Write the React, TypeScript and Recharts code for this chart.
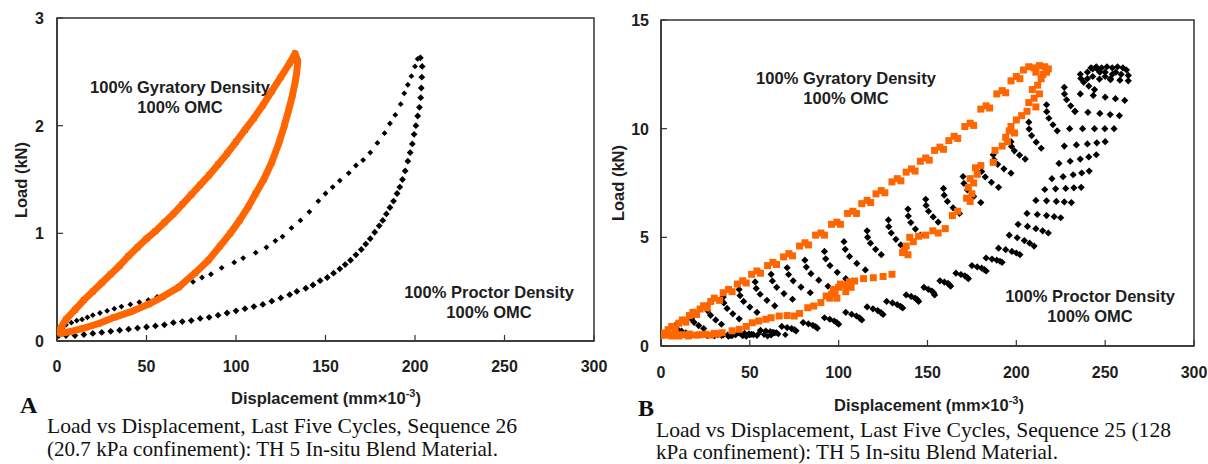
import React from 'react'
import { ScatterChart, Scatter, XAxis, YAxis, ReferenceArea } from 'recharts'

type Pt = [number, number]

const xTicks = [0, 50, 100, 150, 200, 250, 300]
const yTicksA = [0, 1, 2, 3]
const yTicksB = [0, 5, 10, 15]

// panel A, 100% gyratory density (loading then unloading)
const gyratoryLoadA: Pt[] = [
  [0.5, 0.08], [5, 0.2], [10, 0.29], [15, 0.38], [20, 0.46], [25, 0.54], [30, 0.62],
  [35, 0.7], [40, 0.79], [45, 0.87], [50, 0.95], [55, 1.02], [60, 1.1], [65, 1.18],
  [70, 1.27], [75, 1.36], [80, 1.45], [85, 1.54], [90, 1.64], [95, 1.74], [100, 1.85],
  [105, 1.96], [110, 2.07], [115, 2.19], [120, 2.32], [125, 2.45], [130, 2.58], [133, 2.67],
]
const gyratoryUnloadA: Pt[] = [
  [134.5, 2.6], [134, 2.5], [133, 2.4], [131.5, 2.28], [129.5, 2.15], [127, 2.0], [124, 1.84],
  [120, 1.66], [115.5, 1.5], [111, 1.37], [107, 1.25], [102, 1.12], [96.8, 1.0], [91, 0.88],
  [84.6, 0.75], [77, 0.63], [68, 0.5], [59, 0.41], [51, 0.34], [41, 0.27], [32, 0.22],
  [23, 0.16], [15, 0.12], [8, 0.09], [2, 0.07], [0.5, 0.08],
]

// panel A, 100% proctor density
const proctorLoadA: Pt[] = [
  [1, 0.1], [3, 0.12], [5, 0.15], [8, 0.17], [11, 0.19], [14, 0.2], [17, 0.22], [20, 0.24],
  [24, 0.26], [28, 0.28], [32, 0.3], [36, 0.32], [41, 0.34], [46, 0.36], [51, 0.38], [56, 0.41],
  [62, 0.45], [69, 0.5], [76, 0.55], [81, 0.59], [86, 0.62], [92, 0.68], [99, 0.73], [104, 0.77],
  [111, 0.82], [117, 0.87], [122, 0.93], [126, 0.97], [131, 1.05], [136, 1.12], [141, 1.2],
  [146, 1.3], [150, 1.37], [154, 1.43], [158, 1.49], [163, 1.56], [167, 1.63], [171, 1.68],
  [175, 1.75], [179, 1.84], [183, 1.93], [186, 2.02], [189, 2.1], [192, 2.2], [194, 2.3],
  [196, 2.38], [198, 2.46], [200, 2.55], [201.5, 2.62],
]
const proctorUnloadA: Pt[] = [
  [203, 2.63], [204, 2.55], [203.8, 2.45], [203.5, 2.35], [203.2, 2.26], [202.5, 2.17],
  [201.5, 2.09], [200.5, 2.0], [199.5, 1.92], [198.5, 1.83], [197.3, 1.75], [196, 1.67],
  [194.5, 1.58], [193, 1.5], [191.5, 1.43], [190, 1.37], [188, 1.3], [186, 1.24], [184, 1.18],
  [182, 1.12], [180, 1.07], [177.5, 1.01], [175, 0.95], [172.5, 0.9], [170, 0.85], [167, 0.8],
  [164, 0.75], [161, 0.71], [158, 0.67], [154.5, 0.63], [151, 0.59], [147, 0.56], [143, 0.52],
  [139, 0.49], [134, 0.46], [130, 0.43], [125, 0.4], [120, 0.37], [115, 0.34], [110, 0.32],
  [105, 0.3], [100, 0.28], [95, 0.26], [90, 0.24], [85, 0.22], [80, 0.21], [75, 0.19],
  [70, 0.18], [65, 0.17], [60, 0.15], [55, 0.14], [50, 0.13], [45, 0.12], [40, 0.11],
  [35, 0.1], [30, 0.09], [25, 0.08], [20, 0.07], [15, 0.06], [10, 0.05], [5, 0.05], [1, 0.05],
]

// panel B, 100% gyratory density
const gyratoryLoadB: Pt[] = [
  [0, 0.5], [2, 0.6], [4, 0.75], [6, 0.9], [8, 0.8], [10, 1.05], [12, 1.2], [14, 1.1],
  [16, 1.4], [18, 1.55], [20, 1.45], [22, 1.7], [24, 1.85], [26, 1.75], [28, 2.05], [30, 2.2],
  [33, 2.1], [35, 2.45], [38, 2.6], [40, 2.5], [43, 2.85], [46, 3.0], [48, 2.9], [51, 3.3],
  [54, 3.45], [56, 3.35], [60, 3.7], [63, 3.85], [65, 3.75], [69, 4.1], [72, 4.25], [74, 4.15],
  [78, 4.6], [81, 4.75], [83, 4.65], [87, 5.1], [90, 5.2], [92, 5.1], [96, 5.6], [99, 5.7],
  [101, 5.6], [105, 6.1], [108, 6.2], [110, 6.1], [113, 6.55], [116, 6.7], [118, 6.6],
  [121, 7.0], [124, 7.15], [126, 7.05], [130, 7.55], [133, 7.7], [135, 7.6], [138, 8.0],
  [141, 8.15], [143, 8.05], [146, 8.5], [149, 8.65], [151, 8.55], [154, 9.0], [157, 9.15],
  [159, 9.05], [162, 9.45], [165, 9.65], [167, 9.55], [171, 10.1], [174, 10.25], [176, 10.15],
  [180, 10.9], [183, 11.05], [185, 10.95], [189, 11.6], [192, 11.75], [194, 11.65], [197, 12.2],
  [200, 12.4], [202, 12.3], [204, 12.7], [207, 12.85], [210, 12.8], [213, 12.9], [216, 12.85],
  [218, 12.75], [211, 12.6], [215, 12.5],
]
const gyratoryUnloadB: Pt[] = [
  [217, 12.6], [214, 12.3], [212, 12.0], [209, 11.8], [213, 11.6], [210, 11.4], [207, 11.2],
  [211, 11.0], [206, 10.8], [203, 10.6], [200, 10.4], [197, 10.1], [196, 9.9], [199, 9.8],
  [194, 9.6], [195, 9.4], [192, 9.2], [188, 9.0], [187, 8.45], [180, 8.3], [177, 8.2],
  [178, 7.9], [174, 7.7], [176, 7.5], [173, 7.3], [175, 7.0], [172, 6.8], [174, 6.65],
  [167, 6.2], [164, 6.0], [160, 5.4], [156, 5.2], [153, 5.3], [149, 5.1], [145, 5.05],
  [142, 4.8], [140, 5.0], [138, 4.6], [137, 4.4], [139, 4.2], [136, 4.3], [130, 3.3],
  [125, 3.2], [119.5, 3.14], [114, 3.1], [109, 2.99], [106, 2.95], [103.4, 2.8], [100, 2.7],
  [98, 2.5], [96, 2.38], [93, 2.3], [95, 2.2], [97, 2.6], [101, 2.85], [104, 2.5], [99, 2.2],
  [107, 2.7], [90, 2.0], [86, 1.84], [82.6, 1.76], [78, 1.5], [75, 1.38], [71, 1.4],
  [66.5, 1.38], [62, 1.3], [59, 1.23], [55, 1.15], [51.4, 1.07], [48, 0.9], [44, 0.77],
  [40, 0.7], [34.4, 0.61], [30, 0.58], [25, 0.54], [20, 0.5], [15.5, 0.46], [10, 0.46],
  [6, 0.46], [2, 0.5], [4, 0.55], [8, 0.5], [12, 0.52], [16, 0.55], [22, 0.52], [28, 0.5],
  [32, 0.55],
]

// panel B, 100% proctor density: loading arcs, peak, unloading band, tail
const proctorLoadB: Pt[] = [
  [8, 0.95], [8.1, 0.86], [9.3, 0.77], [11.6, 0.68], [14, 0.6],
  [17, 1.4], [17.2, 1.24], [18.6, 1.09], [21.2, 0.94], [24, 0.8],
  [26, 1.85], [26.3, 1.62], [27.9, 1.41], [30.8, 1.2], [34, 1.0],
  [35, 2.25], [35.4, 1.98], [37.2, 1.73], [40.4, 1.48], [44, 1.25],
  [44, 2.6], [44.5, 2.32], [46.5, 2.05], [50, 1.79], [54, 1.55],
  [53, 2.95], [53.6, 2.65], [55.8, 2.38], [59.6, 2.1], [64, 1.85],
  [62, 3.3], [62.7, 2.99], [65.1, 2.7], [69.2, 2.41], [74, 2.15],
  [71, 3.6], [71.8, 3.29], [74.4, 3.0], [78.8, 2.71], [84, 2.45],
  [81, 3.95], [81.8, 3.63], [84.4, 3.33], [88.8, 3.03], [94, 2.75],
  [92, 4.35], [92.7, 4.01], [95.1, 3.7], [99.2, 3.39], [104, 3.1],
  [103, 4.8], [103.7, 4.45], [106.1, 4.12], [110.2, 3.8], [115, 3.5],
  [116, 5.3], [116.3, 5.0], [117.9, 4.73], [120.8, 4.45], [124, 4.2],
  [128, 5.8], [128.2, 5.49], [129.6, 5.2], [132.2, 4.91], [135, 4.65],
  [139, 6.3], [139.2, 5.98], [140.6, 5.68], [143.2, 5.38], [146, 5.1],
  [149, 6.75], [149.2, 6.47], [150.6, 6.2], [153.2, 5.94], [156, 5.7],
  [159, 7.25], [159.4, 6.94], [161.2, 6.65], [164.4, 6.36], [168, 6.1],
  [170, 7.8], [170.5, 7.48], [172.5, 7.18], [176, 6.88], [180, 6.6],
  [180, 8.3], [180.5, 8.03], [182.5, 7.78], [186, 7.53], [190, 7.3],
  [187, 8.8], [187.5, 8.57], [189.5, 8.36], [193, 8.15], [197, 7.95],
  [197, 9.4], [197.3, 9.18], [198.9, 8.98], [201.8, 8.78], [205, 8.6],
  [207, 10.3], [207.2, 9.98], [208.6, 9.68], [211.2, 9.38], [214, 9.1],
  [217, 11.1], [217.1, 10.78], [218.3, 10.48], [220.6, 10.18], [223, 9.9],
  [227, 11.9], [227.1, 11.6], [228.3, 11.33], [230.6, 11.05], [233, 10.8],
  [236, 12.5], [236.3, 12.31], [237.9, 12.14], [240.8, 11.96], [244, 11.8],
  [242, 12.8], [243, 12.75], [246, 12.7], [250, 12.6], [254, 12.5],
]
const proctorPeakB: Pt[] = [
  [245, 12.85], [248, 12.8], [251, 12.85], [254, 12.8], [257, 12.85], [260, 12.8], [262, 12.7],
  [263, 12.45], [256, 12.6], [259, 12.5], [250, 12.4], [247, 12.6], [253, 12.3], [240, 12.6],
  [243, 12.4],
]
const proctorUnloadB: Pt[] = [
  [240, 12.3], [246.8, 12.28], [253, 12.25], [258.3, 12.23], [263, 12.2],
  [236, 11.6], [243.3, 11.53], [250, 11.45], [255.8, 11.38], [261, 11.3],
  [233, 10.8], [240.3, 10.75], [247, 10.7], [252.8, 10.65], [258, 10.6],
  [230, 10.0], [237.3, 10.0], [244, 10.0], [249.8, 10.0], [255, 10.0],
  [227, 9.2], [233.8, 9.25], [240, 9.3], [245.3, 9.35], [250, 9.4],
  [224, 8.4], [230.3, 8.5], [236, 8.6], [240.8, 8.7], [245, 8.8],
  [220, 7.7], [226.3, 7.79], [232, 7.88], [236.8, 7.96], [241, 8.05],
  [216, 7.2], [222.1, 7.23], [227.8, 7.25], [232.4, 7.28], [236.5, 7.3],
  [211, 6.7], [217, 6.68], [222.5, 6.65], [227, 6.63], [231, 6.6],
  [206, 6.1], [211.8, 6.05], [217, 6.0], [221.3, 5.95], [225, 5.9],
  [201, 5.6], [206.3, 5.5], [211, 5.4], [214.8, 5.3], [218, 5.2],
  [196, 5.1], [200.5, 4.98], [204.5, 4.85], [207.5, 4.73], [210, 4.6],
  [190, 4.5], [194, 4.43], [197.5, 4.35], [200, 4.28], [202, 4.2],
  [183, 4.05], [186.3, 4.0], [189, 3.95], [190.8, 3.9], [192, 3.85],
  [175, 3.7], [178, 3.64], [180.5, 3.58], [182, 3.51], [183, 3.45],
  [166, 3.35], [168.8, 3.29], [171, 3.23], [172.3, 3.16], [173, 3.1],
  [157, 3.0], [159.5, 2.94], [161.5, 2.88], [162.5, 2.81], [163, 2.75],
  [148, 2.7], [150.5, 2.61], [152.5, 2.53], [153.5, 2.44], [154, 2.35],
  [138, 2.35], [140.8, 2.28], [143, 2.2], [144.3, 2.13], [145, 2.05],
  [127, 2.05], [130.3, 1.98], [133, 1.9], [134.8, 1.83], [136, 1.75],
  [116, 1.8], [119.3, 1.71], [122, 1.63], [123.8, 1.54], [125, 1.45],
  [104, 1.55], [107.3, 1.46], [110, 1.38], [111.8, 1.29], [113, 1.2],
  [92, 1.3], [95, 1.23], [97.5, 1.15], [99, 1.08], [100, 1.0],
  [80, 1.08], [83, 1.02], [85.5, 0.95], [87, 0.89], [88, 0.82],
  [68, 0.9], [71, 0.85], [73.5, 0.8], [75, 0.75], [76, 0.7],
  [56, 0.72], [59, 0.69], [61.5, 0.66], [63, 0.63], [64, 0.6],
  [44, 0.6], [47, 0.58], [49.5, 0.56], [51, 0.54], [52, 0.52],
  [32, 0.52], [35, 0.51], [37.5, 0.5], [39, 0.49], [40, 0.48],
]
const proctorTailB: Pt[] = [
  [3, 0.5], [7, 0.48], [12, 0.5], [17, 0.47], [22, 0.5], [26, 0.46], [30, 0.45], [34, 0.47],
  [38, 0.44], [42, 0.5], [46, 0.46], [50, 0.5], [54, 0.47], [58, 0.52], [62, 0.49], [66, 0.55],
  [70, 0.52], [45, 0.55], [55, 0.58], [65, 0.62], [60, 0.45], [48, 0.43],
]

const rows = (pts: Pt[]) => pts.map(([x, y]) => ({ x, y }))

const ORANGE = '#ff6600'
const BLACK = '#000'
const INK = '#1e1e1e'
const AXIS = '#333'
const SANS = '"Liberation Sans", Arial, sans-serif'
const SERIF = '"Liberation Serif", "Times New Roman", serif'

const diamond = (r: number) => (p: any) =>
  <path d={`M${p.cx},${p.cy - r}L${p.cx + r},${p.cy}L${p.cx},${p.cy + r}L${p.cx - r},${p.cy}Z`} fill={BLACK} />
const square = (s: number) => (p: any) =>
  <rect x={p.cx - s / 2} y={p.cy - s / 2} width={s} height={s} fill={ORANGE} />

const xTick = (dy: number) => (p: any) => (
  <g>
    <line x1={p.x} x2={p.x} y1={p.y} y2={p.y - 6} stroke={AXIS} strokeWidth={1.2} />
    <text x={p.x} y={p.y + dy} textAnchor="middle" fontFamily={SANS} fontWeight="bold" fontSize={16} fill={INK}>
      {p.payload.value}
    </text>
  </g>
)
const yTick = (dx: number) => (p: any) => (
  <g>
    <line x1={p.x} x2={p.x + 6} y1={p.y} y2={p.y} stroke={AXIS} strokeWidth={1.2} />
    <text x={p.x - dx} y={p.y + 6} textAnchor="end" fontFamily={SANS} fontWeight="bold" fontSize={16} fill={INK}>
      {p.payload.value}
    </text>
  </g>
)

const axisLine = { stroke: AXIS, strokeWidth: 1.5 }

function PanelA() {
  return (
    <ScatterChart width={610} height={400} margin={{ top: 18, right: 16, bottom: 29, left: 12 }}>
      <XAxis type="number" dataKey="x" domain={[0, 300]} ticks={xTicks} interval={0} height={30}
        tickSize={0} tickMargin={0} tickLine={false} axisLine={axisLine} tick={xTick(31)} allowDataOverflow />
      <YAxis type="number" dataKey="y" domain={[0, 3]} ticks={yTicksA} interval={0} width={45}
        tickSize={0} tickMargin={0} tickLine={false} axisLine={axisLine} tick={yTick(13)} allowDataOverflow />
      <ReferenceArea x1={0} x2={300} y1={0} y2={3} fill="none" stroke={AXIS} strokeWidth={1.5} ifOverflow="visible" />
      <Scatter data={rows(proctorUnloadA)} shape={diamond(3.4)} isAnimationActive={false} />
      <Scatter data={rows(proctorLoadA)} shape={diamond(2.9)} isAnimationActive={false} />
      <Scatter data={rows([...gyratoryLoadA, ...gyratoryUnloadA])} shape={square(6)}
        line={{ stroke: ORANGE, strokeWidth: 7, strokeLinejoin: 'round' }} lineType="joint" isAnimationActive={false} />
    </ScatterChart>
  )
}

function PanelB() {
  return (
    <ScatterChart width={608} height={400} margin={{ top: 20, right: 14, bottom: 24, left: 16 }}>
      <XAxis type="number" dataKey="x" domain={[0, 300]} ticks={xTicks} interval={0} height={30}
        tickSize={0} tickMargin={0} tickLine={false} axisLine={axisLine} tick={xTick(32)} allowDataOverflow />
      <YAxis type="number" dataKey="y" domain={[0, 15]} ticks={yTicksB} interval={0} width={45}
        tickSize={0} tickMargin={0} tickLine={false} axisLine={axisLine} tick={yTick(12)} allowDataOverflow />
      <ReferenceArea x1={0} x2={300} y1={0} y2={15} fill="none" stroke={AXIS} strokeWidth={1.5} ifOverflow="visible" />
      <Scatter data={rows(proctorTailB)} shape={diamond(3.2)} isAnimationActive={false} />
      <Scatter data={rows(proctorUnloadB)} shape={diamond(3.6)} isAnimationActive={false} />
      <Scatter data={rows(proctorLoadB)} shape={diamond(3.6)} isAnimationActive={false} />
      <Scatter data={rows(proctorPeakB)} shape={diamond(3.6)} isAnimationActive={false} />
      <Scatter data={rows(gyratoryUnloadB)} shape={square(7)} isAnimationActive={false} />
      <Scatter data={rows(gyratoryLoadB)} shape={square(7)} isAnimationActive={false} />
    </ScatterChart>
  )
}

const bold = { fontFamily: SANS, fontWeight: 'bold' as const, fontSize: 16.5, fill: INK }
const serif = { fontFamily: SERIF, fontSize: 21.5, fill: '#111' }

function Overlay() {
  return (
    <svg width={1208} height={464} style={{ position: 'absolute', left: 0, top: 0, pointerEvents: 'none' }}>
      {/* panel A texts */}
      <text {...bold} x={21} y={180} textAnchor="middle" dominantBaseline="central" transform="rotate(-90 21 180)">Load (kN)</text>
      <text {...bold} x={326} y={404} textAnchor="middle">
        Displacement (mm×10<tspan fontSize={11} dy={-7}>-3</tspan><tspan dy={7}>)</tspan>
      </text>
      <text {...bold} x={180} y={93} textAnchor="middle">100% Gyratory Density</text>
      <text {...bold} x={180} y={113} textAnchor="middle">100% OMC</text>
      <text {...bold} x={489} y={298} textAnchor="middle">100% Proctor Density</text>
      <text {...bold} x={489} y={318} textAnchor="middle">100% OMC</text>
      <text x={20} y={413} fontFamily={SERIF} fontWeight="bold" fontSize={24} fill="#111">A</text>
      <text {...serif} x={47} y={433} textLength={470} lengthAdjust="spacingAndGlyphs">Load vs Displacement, Last Five Cycles, Sequence 26</text>
      <text {...serif} x={47} y={456} textLength={451} lengthAdjust="spacingAndGlyphs">(20.7 kPa confinement): TH 5 In-situ Blend Material.</text>

      {/* panel B texts */}
      <text {...bold} x={618} y={183} textAnchor="middle" dominantBaseline="central" transform="rotate(-90 618 183)">Load (kN)</text>
      <text {...bold} x={929} y={411} textAnchor="middle">
        Displacement (mm×10<tspan fontSize={11} dy={-7}>-3</tspan><tspan dy={7}>)</tspan>
      </text>
      <text {...bold} x={846} y={84} textAnchor="middle">100% Gyratory Density</text>
      <text {...bold} x={846} y={104} textAnchor="middle">100% OMC</text>
      <text {...bold} x={1090} y={302} textAnchor="middle">100% Proctor Density</text>
      <text {...bold} x={1090} y={322} textAnchor="middle">100% OMC</text>
      <text x={638} y={416} fontFamily={SERIF} fontWeight="bold" fontSize={24} fill="#111">B</text>
      <text {...serif} x={656} y={437} textLength={515} lengthAdjust="spacingAndGlyphs">Load vs Displacement, Last Five Cycles, Sequence 25 (128</text>
      <text {...serif} x={656} y={459} textLength={402} lengthAdjust="spacingAndGlyphs">kPa confinement): TH 5 In-situ Blend Material.</text>
    </svg>
  )
}

export default function App() {
  return (
    <div style={{ position: 'absolute', left: 0, top: 0, width: 1208, height: 464, background: '#fff', overflow: 'hidden' }}>
      <div style={{ position: 'absolute', left: 0, top: 0 }}>
        <PanelA />
      </div>
      <div style={{ position: 'absolute', left: 600, top: 0 }}>
        <PanelB />
      </div>
      <Overlay />
    </div>
  )
}
